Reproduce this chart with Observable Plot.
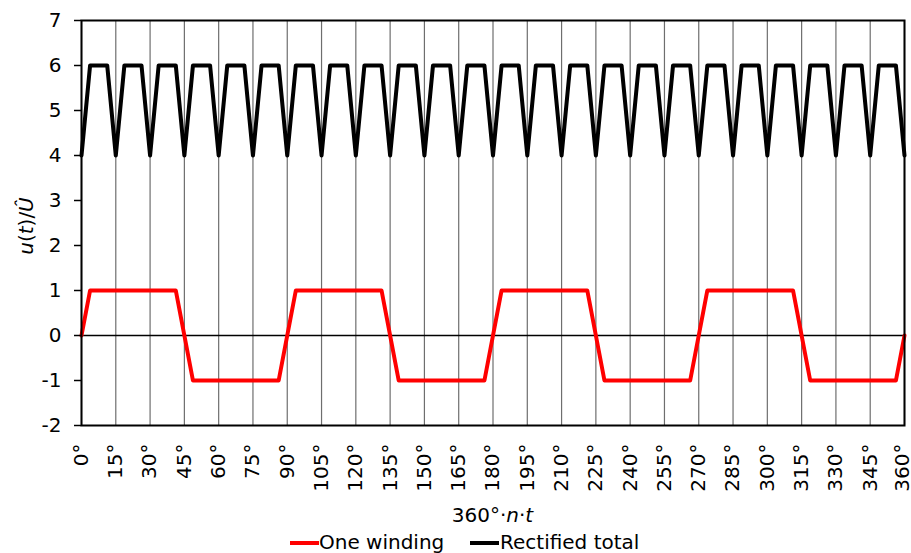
<!DOCTYPE html>
<html>
<head>
<meta charset="utf-8">
<script src="https://cdn.jsdelivr.net/npm/d3@7"></script>
<script src="https://cdn.jsdelivr.net/npm/@observablehq/plot@0.6"></script>
<style>
  html, body { margin: 0; padding: 0; background: #fff; }
  #wrap { position: relative; width: 911px; height: 553px; overflow: hidden; font-family: "DejaVu Sans", Verdana, sans-serif; }
  .sw { position: absolute; height: 4px; }
  .lt { position: absolute; font-size: 20px; line-height: 22px; color: #000; white-space: nowrap; }
</style>
</head>
<body>
<div id="wrap"></div>
<script>
// Tick values
const xTicks = [0,15,30,45,60,75,90,105,120,135,150,165,180,195,210,225,240,255,270,285,300,315,330,345,360];
const yTicks = [-2,-1,0,1,2,3,4,5,6,7];

// One winding (trapezoid vertices, degrees / per-unit)
const windingX = [0,3.75,41.25,48.75,86.25,93.75,131.25,138.75,176.25,183.75,221.25,228.75,266.25,273.75,311.25,318.75,356.25,360];
const windingY = [0,1,1,-1,-1,1,1,-1,-1,1,1,-1,-1,1,1,-1,-1,0];

// Rectified total (vertices)
const totalX = [0,3.75,11.25,15,18.75,26.25,30,33.75,41.25,45,48.75,56.25,60,63.75,71.25,75,78.75,86.25,
  90,93.75,101.25,105,108.75,116.25,120,123.75,131.25,135,138.75,146.25,150,153.75,161.25,165,168.75,176.25,
  180,183.75,191.25,195,198.75,206.25,210,213.75,221.25,225,228.75,236.25,240,243.75,251.25,255,258.75,266.25,
  270,273.75,281.25,285,288.75,296.25,300,303.75,311.25,315,318.75,326.25,330,333.75,341.25,345,348.75,356.25,360];
const totalY = [4,6,6,4,6,6,4,6,6,4,6,6,4,6,6,4,6,6,
  4,6,6,4,6,6,4,6,6,4,6,6,4,6,6,4,6,6,
  4,6,6,4,6,6,4,6,6,4,6,6,4,6,6,4,6,6,
  4,6,6,4,6,6,4,6,6,4,6,6,4,6,6,4,6,6,4];

const winding = windingX.map((x, i) => ({x, y: windingY[i]}));
const total = totalX.map((x, i) => ({x, y: totalY[i]}));
const lastTick = xTicks[xTicks.length - 1];

const tickLabel = {
  x: d => d, frameAnchor: "bottom", dy: 18, rotate: -90,
  textAnchor: "end", lineAnchor: "middle", text: d => d + "°",
  fontSize: 20, fill: "#000"
};

const chart = Plot.plot({
  width: 911,
  height: 528,
  marginLeft: 81,
  marginRight: 7,
  marginTop: 20,
  marginBottom: 103,
  style: { fontFamily: "DejaVu Sans, Verdana, sans-serif", fontSize: "20px", background: "#fff", color: "#000", overflow: "visible" },
  x: { domain: [0, 360], axis: null },
  y: { domain: [-2, 7] },
  marks: [
    Plot.ruleX(xTicks, { stroke: "#6e6e6e", strokeWidth: 1.2 }),
    Plot.ruleY([0], { stroke: "#000", strokeWidth: 1.5 }),
    Plot.line(winding, { x: "x", y: "y", stroke: "#ff0000", strokeWidth: 4, strokeLinejoin: "round" }),
    Plot.line(total, { x: "x", y: "y", stroke: "#000", strokeWidth: 4, strokeLinejoin: "round" }),
    Plot.frame({ stroke: "#000", strokeWidth: 2 }),
    Plot.axisY({ ticks: yTicks, tickSize: 7, tickPadding: 13, tickFormat: d => String(d), label: null, stroke: "#000", strokeWidth: 1.5 }),
    Plot.text(xTicks.filter(d => d !== lastTick), tickLabel),
    Plot.text([lastTick], { ...tickLabel, dx: -2 })
  ]
});

const wrap = document.getElementById("wrap");
wrap.appendChild(chart);

const svg = d3.select(chart);

// X axis label
const xl = svg.append("text")
  .attr("x", (81 + 904) / 2).attr("y", 522)
  .attr("text-anchor", "middle")
  .attr("font-size", 20).attr("fill", "#000");
xl.append("tspan").text("360°·");
xl.append("tspan").attr("font-style", "italic").text("n");
xl.append("tspan").text("·");
xl.append("tspan").attr("font-style", "italic").text("t");

// Y axis label
const yl = svg.append("text")
  .attr("transform", "translate(33,226) rotate(-90)")
  .attr("text-anchor", "middle")
  .attr("font-size", 20).attr("fill", "#000");
yl.append("tspan").attr("font-style", "italic").text("u");
yl.append("tspan").text("(");
yl.append("tspan").attr("font-style", "italic").text("t");
yl.append("tspan").text(")/");
yl.append("tspan").attr("font-style", "italic").text("Û");

// Legend
const legend = [
  { label: "One winding", color: "#ff0000", sx: 290, tx: 319 },
  { label: "Rectified total", color: "#000000", sx: 470, tx: 500 }
];
legend.forEach(d => {
  const s = document.createElement("div");
  s.className = "sw";
  s.style.left = d.sx + "px"; s.style.top = "541px"; s.style.width = "29px"; s.style.background = d.color;
  wrap.appendChild(s);
  const t = document.createElement("div");
  t.className = "lt";
  t.style.left = d.tx + "px"; t.style.top = "531px";
  t.textContent = d.label;
  wrap.appendChild(t);
});
</script>
</body>
</html>
